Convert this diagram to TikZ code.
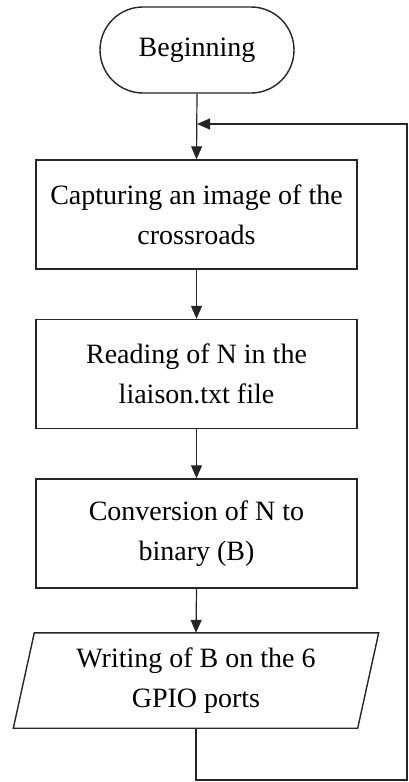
\documentclass[tikz,border=0pt]{standalone}
\usepackage{fontspec}
\setmainfont{Liberation Serif}
\usetikzlibrary{arrows.meta,shapes.misc}
\begin{document}
\begin{tikzpicture}[x=1pt,y=-1pt,
  txt/.style={font=\fontsize{28}{40}\selectfont, align=center, inner sep=0pt},
  stepbox/.style={txt, draw=black!85, line width=1.4pt, rectangle,
    minimum width=321pt, minimum height=109pt},
  term/.style={txt, draw=black!85, line width=1.4pt, rounded rectangle,
    minimum width=194pt, minimum height=86pt},
  flow/.style={draw=black!85, line width=1.2pt,
    -{Triangle[length=13pt,width=11pt]}},
  plain/.style={draw=black!85, line width=1.2pt}]
\useasboundingbox (0,0) rectangle (409,782);
\fill[white] (0,0) rectangle (409,782);

% process steps
\node[term] (start) at (197,50) {Beginning};
\node[stepbox] (cap) at (196.5,214.5) {Capturing an image of the\\crossroads};
\node[stepbox] (read) at (196.5,374) {Reading of N in the\\liaison.txt file};
\node[stepbox] (conv) at (196.5,533.5) {Conversion of N to\\binary (B)};

% output step: parallelogram drawn round the text node
\node[txt, minimum width=365pt, minimum height=95pt] (io) at (196,680.5)
  {Writing of B on the 6\\GPIO ports};
\draw[black!85, line width=1.4pt]
  ([xshift=21pt]io.north west) -- (io.north east)
  -- ([xshift=-21pt]io.south east) -- (io.south west) -- cycle;

% connectors
\draw[flow] (start.south) -- (cap.north);
\draw[flow] (cap.south) -- (read.north);
\draw[flow] (read.south) -- (conv.north);
\draw[flow] (conv.south) -- (io.north);

% loop back to the capture step
\coordinate (lb) at (196,780);
\coordinate (rb) at (407,780);
\coordinate (rt) at (407,124);
\coordinate (jn) at (197,124);
\draw[flow] (io.south) -- (lb) -- (rb) -- (rt) -- (jn);
\end{tikzpicture}
\end{document}
